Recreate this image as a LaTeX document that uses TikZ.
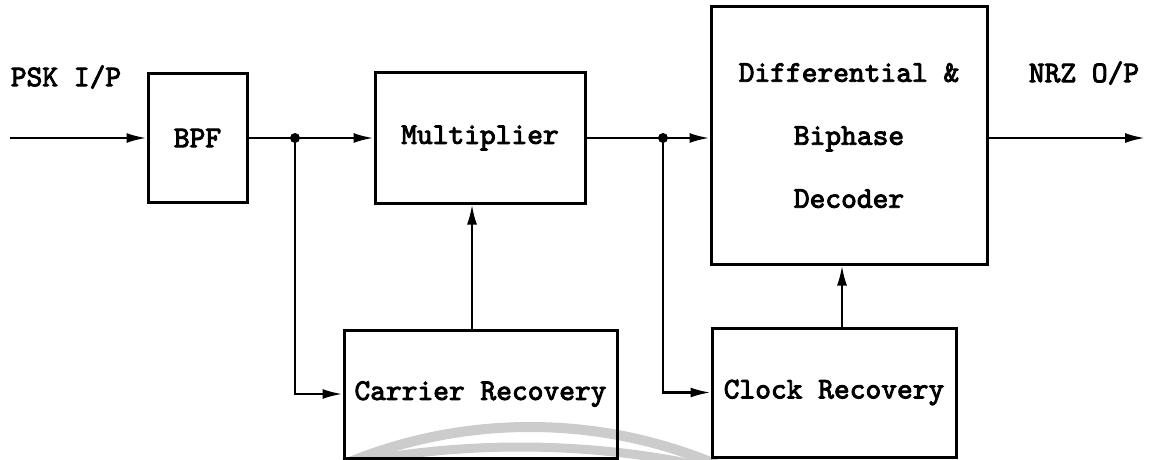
\documentclass[tikz,border=0pt]{standalone}
\usepackage{fontspec}
\usetikzlibrary{arrows.meta}
% heavy typewriter face for all labels
\newfontfamily\tw{lmmono10-regular}[Extension=.otf, FakeBold=3]

\begin{document}
\begin{tikzpicture}[x=1pt, y=-1pt,
  lbl/.style={font=\tw\fontsize{30}{36}\selectfont, inner sep=0pt},
  blk/.style={draw, line width=3pt, inner sep=0pt, align=center,
              font=\tw\fontsize{30}{36}\selectfont},
  conn/.style={line width=2.4pt, -{Latex[length=20pt, width=10pt]}},
  wm/.style={draw=black!20}]

\useasboundingbox (0,0) rectangle (1154,460);
\fill[white] (0,0) rectangle (1154,460);

% faint background rings
\begin{scope}
  \clip (0,0) rectangle (1154,460);
  \draw[wm, line width=10pt] (530,907) circle[radius=480];
  \draw[wm, line width=9pt] (520,1319) circle[radius=872];
\end{scope}

% blocks
\node[blk, minimum width=99pt,  minimum height=128pt] (bpf)  at (197.5,138) {BPF};
\node[blk, minimum width=210pt, minimum height=130pt] (mul)  at (480,138)   {Multiplier};
\node[blk, minimum width=273pt, minimum height=128pt] (car)  at (480.5,394) {Carrier Recovery};
\node[blk, minimum width=276pt, minimum height=257pt,
      font=\tw\fontsize{30}{63}\selectfont]            (dec)  at (849,135.5)
      {Differential \&\\Biphase\\Decoder};
\node[blk, minimum width=244pt, minimum height=129pt] (clk)  at (834,392.5) {Clock Recovery};

% port labels
\node[lbl] (psk) at (66,77)   {PSK I/P};
\node[lbl] (nrz) at (1084,73) {NRZ O/P};

% connection points
\coordinate (in)  at (10,138);
\coordinate (out) at (1145,138);
\coordinate (j1)  at (295,138);
\coordinate (j2)  at (663,138);
\coordinate (cu)  at (472,0);
\coordinate (ku)  at (842,0);

% signal path
\draw[conn] (in) -- (bpf.west);
\draw[conn] (bpf.east) -- (mul.west);
\draw[conn] (mul.east) -- (mul.east -| dec.west);
\draw[conn] (mul.east -| dec.east) -- (out);

% recovery branches
\draw[conn] (j1) |- (car.west);
\draw[conn] (j2) |- (clk.west);
\draw[conn] (car.north -| cu) -- (mul.south -| cu);
\draw[conn] (clk.north -| ku) -- (dec.south -| ku);

% junction dots
\fill (j1) circle[radius=5];
\fill (j2) circle[radius=5];
\end{tikzpicture}
\end{document}
